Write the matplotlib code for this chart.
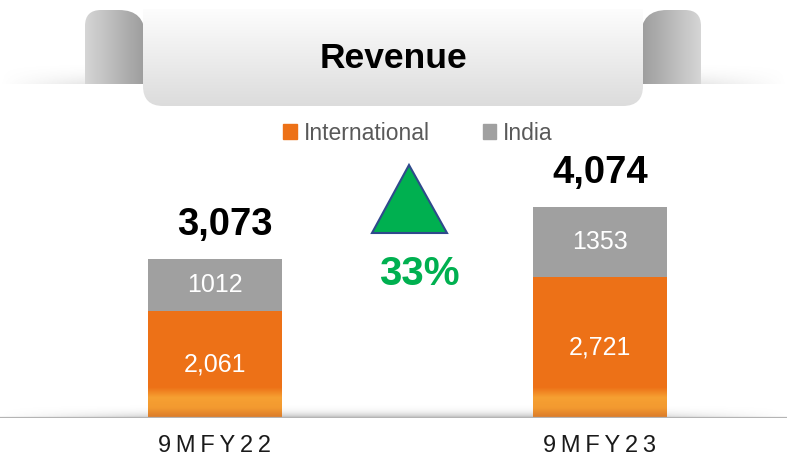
import numpy as np
import matplotlib
matplotlib.use("Agg")
from matplotlib import pyplot as plt
from matplotlib.path import Path
from matplotlib.patches import PathPatch, Polygon, Patch
from matplotlib.colors import LinearSegmentedColormap

plt.rcParams['font.family'] = ['Liberation Sans', 'DejaVu Sans']

# data
periods = ["9MFY22", "9MFY23"]
international = [2061, 2721]
india = [1012, 1353]
international_labels = ["2,061", "2,721"]
india_labels = ["1012", "1353"]
title = "Revenue"

ORANGE = "#ED7117"
GREY = "#A0A0A0"
GREEN = "#00B050"

W, H = 787, 459
fig = plt.figure(figsize=(W / 100, H / 100), dpi=100)

# background axes in pixel coords for the banner decoration
bg = fig.add_axes([0, 0, 1, 1])
bg.set_xlim(0, W)
bg.set_ylim(H, 0)
bg.axis("off")


def grad_fill(patch, c1, c2, ext, horizontal=False, z=1):
    bg.add_patch(patch)
    patch.set_facecolor("none")
    patch.set_edgecolor("none")
    cmap = LinearSegmentedColormap.from_list("g", [c1, c2])
    g = np.linspace(0, 1, 256)
    arr = g[None, :] if horizontal else g[:, None]
    im = bg.imshow(arr, cmap=cmap, extent=ext, aspect="auto", zorder=z,
                   origin="upper")
    im.set_clip_path(patch)


# shadow band behind the banner
band = np.linspace(0, 1, 60)[:, None] * np.ones((1, 400))
alpha = np.minimum(1, np.minimum(np.linspace(0, 4, 400), np.linspace(4, 0, 400)))[None, :]
rgba = np.zeros((60, 400, 4))
rgba[..., :3] = 0.62
rgba[..., 3] = band ** 2 * alpha * 0.55
bg.imshow(rgba, extent=[0, W, 84, 62], aspect="auto", zorder=0.5)


def tab_path(x0, x1, y0, y1, flip=False):
    # curl shape: rounded top corners
    r1, r2 = 16, 26
    if flip:
        r1, r2 = r2, r1
    verts = [(x0, y1), (x0, y0 + r1), (x0, y0), (x0 + r1, y0),
             (x1 - r2, y0), (x1, y0), (x1, y0 + r2), (x1, y1), (x0, y1)]
    codes = [Path.MOVETO, Path.LINETO, Path.CURVE3, Path.CURVE3,
             Path.LINETO, Path.CURVE3, Path.CURVE3, Path.LINETO, Path.CLOSEPOLY]
    return Path(verts, codes)


grad_fill(PathPatch(tab_path(85, 145, 10, 84)), "#D6D6D6", "#9C9C9C",
          [85, 145, 84, 10], horizontal=True, z=1)
grad_fill(PathPatch(tab_path(641, 701, 10, 84, flip=True)), "#9C9C9C", "#D6D6D6",
          [641, 701, 84, 10], horizontal=True, z=1)

# main banner with rounded bottom corners
bx0, bx1, by0, by1, r = 143, 643, 9, 106, 20
verts = [(bx0, by0), (bx1, by0), (bx1, by1 - r), (bx1, by1), (bx1 - r, by1),
         (bx0 + r, by1), (bx0, by1), (bx0, by1 - r), (bx0, by0)]
codes = [Path.MOVETO, Path.LINETO, Path.LINETO, Path.CURVE3, Path.CURVE3,
         Path.LINETO, Path.CURVE3, Path.CURVE3, Path.CLOSEPOLY]
grad_fill(PathPatch(Path(verts, codes)), "#FDFDFD", "#DCDCDC",
          [bx0, bx1, by1, by0], z=2)
bg.text((bx0 + bx1) / 2, 58, title, fontsize=25.5, fontweight="bold",
        ha="center", va="center", color="black", zorder=3)

# baseline shadow
rgba2 = np.zeros((40, 400, 4))
rgba2[..., :3] = 0.55
rgba2[..., 3] = (np.linspace(0, 1, 40)[:, None] ** 3) * alpha * 0.6
bg.imshow(rgba2, extent=[0, W, 418, 402], aspect="auto", zorder=0.5)

# bar axes: value 0 at y=418 px, 0.05176 px per unit
scale = 0.05176
base_px = 418
ax = fig.add_axes([0, (H - base_px) / H, 1, base_px / H])
ax.set_ylim(0, base_px / scale)
x = np.arange(len(periods))
ax.set_xlim(-215 / 385, 1 + (W - 600) / 385)
ax.patch.set_alpha(0)
width = 134 / 385

b1 = ax.bar(x, international, width, color=ORANGE, label="International", zorder=2)
b2 = ax.bar(x, india, width, bottom=international, color=GREY, label="India", zorder=2)

# lighter band at the bottom of orange bars
cm = LinearSegmentedColormap.from_list("o", [ORANGE, "#F6A032", "#F39A30", "#D9792A"])
for xi in x:
    ax.imshow(np.linspace(0, 1, 64)[:, None], cmap=cm, origin="upper",
              extent=[xi - width / 2, xi + width / 2, 0, 590], aspect="auto", zorder=2.5)

for xi, v, lab in zip(x, international, international_labels):
    ax.text(xi, v / 2, lab, ha="center", va="center", color="white", fontsize=18, zorder=4)
for xi, b, v, lab in zip(x, international, india, india_labels):
    ax.text(xi, b + v / 2, lab, ha="center", va="center", color="white", fontsize=18, zorder=4)

totals = [a + b for a, b in zip(international, india)]
total_dx = [10 / 385, 0]  # first total sits a little right of its bar
for xi, t, dx in zip(x, totals, total_dx):
    ax.text(xi + dx, t + 34 / scale, f"{t:,}", ha="center", va="center",
            fontsize=27.5, fontweight="bold", color="black")

ax.axhline(0, color="#B4B4B4", lw=1.6, zorder=3)

growth = (totals[1] / totals[0] - 1) * 100
bg.add_patch(Polygon([(372, 233), (409, 165), (447, 233)], closed=True,
                     facecolor=GREEN, edgecolor="#2F4A8C", lw=1.5, zorder=3))
bg.text(419, 274, f"{growth:.0f}%", ha="center", va="center", fontsize=29,
        fontweight="bold", color=GREEN)

ax.set_xticks(x)
ax.set_xticklabels(["\u2009".join(p) for p in periods], fontsize=17, color="#1A1A1A")
ax.tick_params(axis="x", length=0, pad=12)
ax.set_yticks([])
for s in ax.spines.values():
    s.set_visible(False)

leg = ax.legend(handles=[Patch(color=ORANGE, label="International"),
                         Patch(color=GREY, label="India")],
                loc="center", bbox_to_anchor=(418 / W, 1 - 133 / base_px),
                ncol=2, frameon=False, fontsize=16.5, handlelength=0.6,
                handleheight=0.6, handletextpad=0.3, columnspacing=2.3)
for t in leg.get_texts():
    t.set_color("#595959")

fig.savefig("out.png", dpi=100)
